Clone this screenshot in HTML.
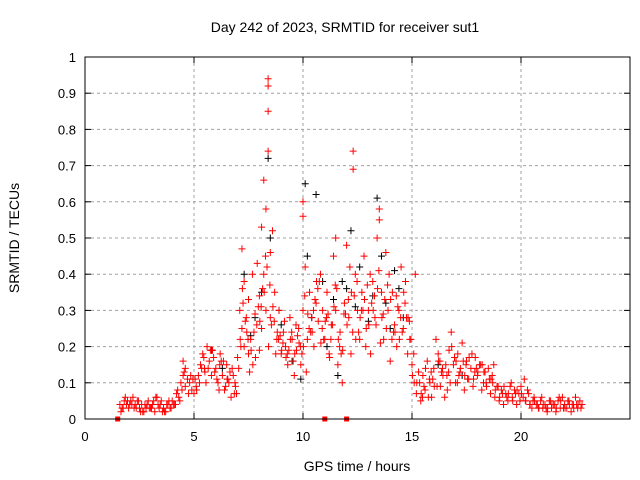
<!DOCTYPE html>
<html><head><meta charset="utf-8"><style>
html,body{margin:0;padding:0;background:#fff;}
svg{display:block;font-family:"Liberation Sans",sans-serif;}
</style></head><body>
<svg id="chart" width="640" height="480" viewBox="0 0 640 480">
<text x="345" y="32" font-size="14" text-anchor="middle">Day 242 of 2023, SRMTID for receiver sut1</text>
<text x="19" y="238" font-size="14" text-anchor="middle" transform="rotate(-90 19 238)">SRMTID / TECUs</text>
<text x="357" y="471" font-size="14" text-anchor="middle">GPS time / hours</text>
<g id="grid"></g>
<g id="ticks"></g>
<g id="black"></g>
<g id="red"></g>
<rect x="85" y="57" width="545" height="362" fill="none" stroke="#000" stroke-width="1"/>
</svg>
<script>
const xTicks=[0,5,10,15,20];
const yTicks=[0,0.1,0.2,0.3,0.4,0.5,0.6,0.7,0.8,0.9,1];
const yTickLabels=["0","0.1","0.2","0.3","0.4","0.5","0.6","0.7","0.8","0.9","1"];
const redT=[1.6,1.7,1.8,1.9,2.0,2.1,2.2,2.3,2.4,2.5,2.6,2.7,2.8,2.9,3.0,3.1,3.2,3.3,3.4,3.5,3.6,3.7,3.8,3.9,4.0,4.1,4.2,4.3,
4.4,4.5,4.5,4.6,4.7,4.8,4.9,5.0,5.1,
5.2,5.3,5.4,5.5,5.6,5.7,5.8,5.9,6.0,6.1,6.2,6.3,6.4,6.5,6.6,6.7,6.8,6.9,7.0,
7.1,7.2,7.2,7.3,7.3,7.4,7.5,7.5,7.6,7.7,7.8,7.9,8.0,8.0,8.1,8.1,8.2,8.2,8.3,8.3,8.4,8.4,8.4,8.4,8.5,8.5,8.6,8.7,8.8,8.9,9.0,9.1,9.2,9.3,9.4,9.5,9.6,9.7,9.8,9.9,
10.0,10.0,10.1,10.0,10.2,10.3,10.4,10.5,10.6,10.7,10.8,10.9,11.0,11.1,11.2,11.3,11.4,11.5,11.5,11.6,11.7,11.8,11.9,12.0,12.1,12.2,12.3,12.3,12.4,12.5,12.6,12.7,12.8,12.9,
13.0,13.1,13.2,13.3,13.4,13.5,13.5,13.6,13.7,13.8,13.9,14.0,14.1,14.2,14.3,14.4,14.5,14.6,14.7,14.8,14.9,
15.0,15.1,15.2,15.3,15.4,15.5,15.6,15.7,15.8,15.9,16.0,16.1,16.2,16.3,16.4,16.5,16.6,16.7,16.8,16.9,17.0,17.1,17.2,17.3,17.4,17.5,17.6,17.7,17.8,17.9,
18.0,18.1,18.2,18.3,18.4,18.5,18.6,18.7,18.8,18.9,19.0,19.1,19.2,19.3,19.4,19.5,19.6,19.7,19.8,19.9,20.0,20.1,20.2,20.3,20.4,20.5,20.6,20.7,20.8,20.9,
21.0,21.1,21.2,21.3,21.4,21.5,21.6,21.7,21.8,21.9,22.0,22.1,22.2,22.3,22.4,22.5,22.6,22.7,22.8,
1.65,1.85,2.05,2.25,2.45,2.65,2.85,3.05,3.25,3.45,3.65,3.85,4.05,4.25,4.55,4.75,4.95,5.35,5.55,5.75,5.95,6.15,6.35,6.55,6.75,6.95,
7.15,7.35,7.55,7.75,7.95,8.15,8.35,8.55,8.75,8.95,9.15,9.35,9.55,9.75,9.95,10.15,10.35,10.55,10.75,10.95,11.15,11.35,11.55,11.75,11.95,12.15,12.35,12.55,12.75,12.95,
13.15,13.35,13.55,13.75,13.95,14.15,14.35,14.55,14.75,14.95,15.15,15.35,15.55,15.75,15.95,16.15,16.35,16.55,16.75,16.95,17.15,17.35,17.55,17.75,17.95,18.15,18.35,18.55,18.75,18.95,
19.15,19.35,19.55,19.75,19.95,20.15,20.35,20.55,20.75,20.95,21.15,21.35,21.55,21.75,21.95,22.15,22.35,22.55,22.75];
const redV=[.04,.03,.05,.04,.03,.05,.06,.04,.05,.03,.04,.02,.03,.05,.03,.04,.02,.06,.03,.05,.03,.02,.04,.03,.05,.04,.07,.06,
.10,.12,.16,.09,.11,.10,.08,.07,.09,
.12,.15,.18,.13,.20,.16,.12,.17,.14,.10,.18,.12,.08,.15,.10,.06,.12,.09,.17,
.30,.25,.47,.38,.20,.28,.18,.33,.22,.15,.29,.43,.34,.19,.53,.25,.66,.40,.58,.30,.74,.94,.92,.85,.46,.28,.52,.35,.22,.30,.18,.24,.20,.15,.28,.22,.12,.19,.25,.15,
.56,.60,.42,.30,.22,.35,.28,.20,.32,.27,.40,.30,.22,.35,.18,.26,.45,.30,.50,.15,.24,.10,.32,.48,.28,.18,.74,.69,.40,.30,.22,.35,.45,.25,
.30,.18,.38,.28,.50,.58,.55,.35,.22,.46,.30,.16,.35,.26,.20,.30,.42,.25,.38,.18,.22,
.15,.10,.07,.13,.05,.12,.08,.16,.11,.06,.14,.22,.18,.09,.14,.06,.12,.19,.24,.15,.10,.18,.13,.21,.08,.16,.11,.14,.09,.17,
.12,.15,.08,.13,.10,.14,.07,.10,.06,.09,.05,.08,.04,.07,.05,.09,.06,.08,.04,.07,.09,.06,.05,.08,.04,.03,.06,.04,.03,.05,
.03,.04,.02,.05,.03,.04,.02,.05,.03,.06,.04,.03,.05,.02,.04,.06,.03,.05,.04,
.02,.06,.04,.03,.05,.02,.04,.03,.06,.04,.02,.05,.04,.08,.13,.07,.11,.14,.10,.19,.13,.08,.16,.11,.14,.07,
.20,.27,.13,.24,.31,.36,.42,.26,.18,.23,.27,.19,.16,.23,.18,.13,.24,.33,.38,.22,.29,.26,.36,.18,.29,.42,.34,.24,.30,.37,.32,
.26,.21,.33,.40,.24,.31,.24,.28,.22,.40,.10,.09,.06,.11,.09,.13,.15,.10,.17,.12,.16,.11,.18,.14,.15,.13,.11,.15,.09,.07,
.06,.10,.07,.05,.11,.07,.05,.04,.06,.03,.05,.04,.06,.03,.05,.04,.04,.03,.05];
const redT2=[1.75,1.95,2.15,2.35,2.55,2.75,2.95,3.15,3.35,3.55,3.75,3.95,4.15,4.35,4.45,4.6,4.85,5.05,5.25,5.45,5.65,5.85,6.05,6.25,6.45,6.65,6.85,7.05,
7.12,7.25,7.42,7.62,7.82,8.02,8.22,8.42,8.62,8.82,9.02,9.22,9.42,9.62,9.82,10.02,10.22,10.42,10.62,10.82,11.02,11.22,11.42,11.62,11.82,12.02,12.22,12.42,12.62,12.82,
13.02,13.22,13.42,13.62,13.82,14.02,14.22,14.42,14.62,14.82,15.02,15.22,15.42,15.62,15.82,16.02,16.22,16.42,16.62,16.82,17.02,17.22,17.42,17.62,17.82,18.02,18.22,18.42,18.62,18.82,
19.02,19.22,19.42,19.62,19.82,20.02,20.22,20.42,20.62,20.82,21.02,21.22,21.42,21.62,21.82,22.02,22.22,22.42,22.62,
7.22,7.48,7.68,7.88,8.08,8.28,8.48,8.68,8.88,9.08,9.28,9.48,9.68,9.88,10.08,10.28,10.48,10.68,10.88,11.08,11.28,11.48,11.68,11.88,12.08,12.28,12.48,12.68,12.88,13.08,13.28,13.48,13.68,13.88,14.08,14.28,14.48,14.68,14.88,
5.12,5.48,5.82,6.18,6.52,6.88,15.08,15.48,15.88,16.28,16.68,17.08,17.48,17.88,18.28,18.68];
const redV2=[.03,.05,.04,.03,.02,.04,.03,.05,.04,.02,.04,.03,.04,.05,.08,.14,.12,.11,.10,.17,.14,.19,.11,.16,.09,.13,.07,.14,
.22,.32,.24,.19,.17,.27,.35,.20,.31,.24,.19,.17,.22,.18,.21,.20,.29,.24,.38,.21,.27,.17,.31,.22,.19,.26,.35,.22,.28,.33,
.26,.30,.36,.28,.25,.33,.24,.22,.35,.28,.12,.10,.07,.14,.10,.09,.16,.12,.08,.20,.16,.14,.12,.17,.11,.13,.15,.09,.11,.08,
.06,.09,.07,.05,.08,.07,.05,.04,.05,.03,.04,.03,.04,.03,.05,.03,.04,.03,.04,
.36,.22,.40,.26,.31,.45,.37,.27,.22,.21,.18,.24,.26,.20,.34,.25,.30,.36,.25,.28,.22,.37,.20,.29,.33,.24,.38,.30,.20,.40,.34,.41,.29,.37,.22,.34,.28,.32,.27,
.08,.14,.19,.15,.11,.10,.18,.06,.13,.16,.13,.10,.15,.13,.10,.12];
const blackT=[7.3,7.8,8.1,8.4,8.5,9.0,9.9,10.1,10.2,10.6,10.9,11.4,11.6,12.0,12.2,12.6,13.0,13.4,13.6,13.8,14.2,14.6,6.3,5.8,16.2,17.3,7.6,8.9,9.5,10.4,11.1,12.4,13.2,14.0,14.4,11.8];
const blackV=[.40,.28,.35,.72,.50,.26,.11,.65,.45,.62,.38,.33,.12,.36,.52,.42,.27,.61,.45,.32,.41,.28,.14,.19,.15,.12,.23,.30,.16,.28,.20,.31,.34,.25,.36,.38];
const squareT=[1.5,11.0,12.0];
const squareV=[0,0,0];

const NS="http://www.w3.org/2000/svg";
const X0=85,X1=630,Y0=419,Y1=57;
const sx=t=>X0+(t/25)*(X1-X0);
const sy=v=>Y0-v*(Y0-Y1);
function mk(tag,attrs,parent){const e=document.createElementNS(NS,tag);for(const k in attrs)e.setAttribute(k,attrs[k]);parent.appendChild(e);return e;}
const grid=document.getElementById('grid'),ticks=document.getElementById('ticks');
xTicks.forEach(t=>{
  const x=sx(t);
  if(t>0){const g=mk('line',{x1:x,x2:x,y1:Y1,y2:Y0,stroke:'#a0a0a0','stroke-dasharray':'3,3'},grid);
  
  }
  mk('line',{x1:x,x2:x,y1:Y0,y2:Y0-6,stroke:'#000'},ticks);
  mk('line',{x1:x,x2:x,y1:Y1,y2:Y1+6,stroke:'#000'},ticks);
  const l=mk('text',{x:x,y:Y0+22,'font-size':13,'text-anchor':'middle'},ticks);l.textContent=t;
  
  
});
yTicks.forEach((v,i)=>{
  const y=sy(v);
  if(v>0&&v<1){const g=mk('line',{x1:X0,x2:X1,y1:y,y2:y,stroke:'#a0a0a0','stroke-dasharray':'3,3'},grid);
  
  }
  mk('line',{x1:X0,x2:X0+6,y1:y,y2:y,stroke:'#000'},ticks);
  mk('line',{x1:X1,x2:X1-6,y1:y,y2:y,stroke:'#000'},ticks);
  const l=mk('text',{x:X0-9,y:y+5,'font-size':13,'text-anchor':'end'},ticks);l.textContent=yTickLabels[i];
  
  
});
function plus(g,t,v,c){
  const x=sx(t),y=sy(v);
  const p=mk('path',{d:`M${x-3.5},${y}H${x+3.5}M${x},${y-3.5}V${y+3.5}`,stroke:c,'stroke-width':1,fill:'none'},g);
  
  
}
const bg=document.getElementById('black'),rg=document.getElementById('red');
blackT.forEach((t,i)=>plus(bg,t,blackV[i],'#000'));
redT.forEach((t,i)=>plus(rg,t,redV[i],'#ff0000'));
redT2.forEach((t,i)=>plus(rg,t,redV2[i],'#ff0000'));
squareT.forEach((t,i)=>{
  const r=mk('rect',{x:sx(t)-2.5,y:sy(squareV[i])-2.5,width:5,height:5,fill:'#ff0000'},rg);
  
  
});
</script>
</body></html>
